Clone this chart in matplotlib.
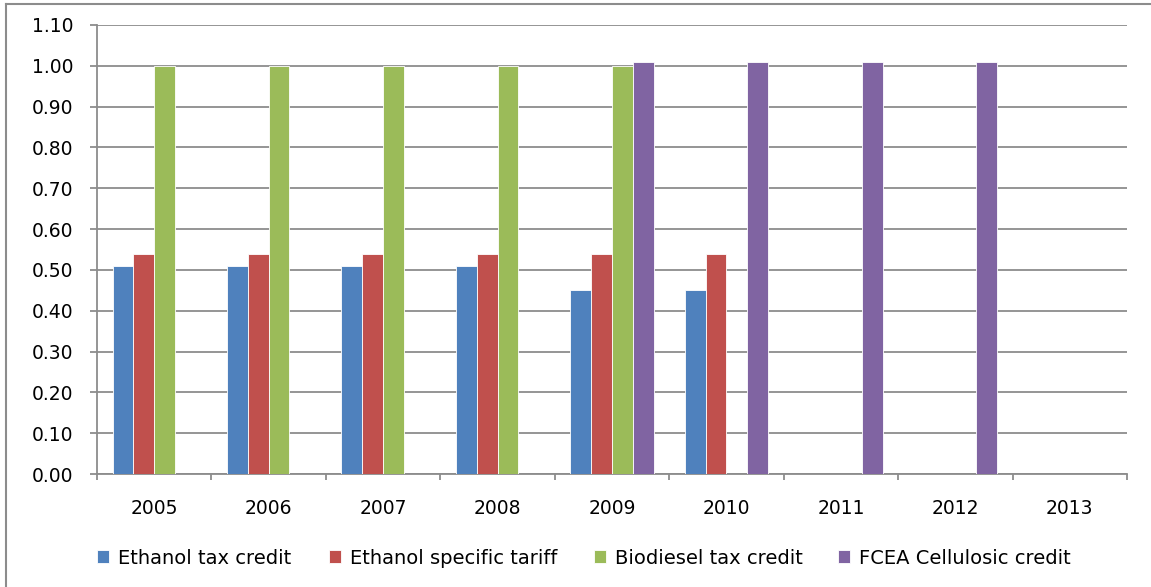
import numpy as np
import matplotlib.pyplot as plt
from matplotlib.lines import Line2D

years = ["2005", "2006", "2007", "2008", "2009", "2010", "2011", "2012", "2013"]
series_names = ["Ethanol tax credit", "Ethanol specific tariff",
                "Biodiesel tax credit", "FCEA Cellulosic credit"]
ethanol_credit = [0.51, 0.51, 0.51, 0.51, 0.45, 0.45, 0, 0, 0]
ethanol_tariff = [0.54, 0.54, 0.54, 0.54, 0.54, 0.54, 0, 0, 0]
biodiesel_credit = [1.00, 1.00, 1.00, 1.00, 1.00, 0, 0, 0, 0]
fcea_credit = [0, 0, 0, 0, 1.01, 1.01, 1.01, 1.01, 0]
colors = ["#4F81BD", "#C0504D", "#9BBB59", "#8064A2"]

fig = plt.figure(figsize=(11.51, 5.87), dpi=100)
ax = fig.add_axes([97 / 1151, 113 / 587, (1127 - 97) / 1151, (474 - 25) / 587])

x = np.arange(len(years))
width = 1 / 5.5
all_series = [ethanol_credit, ethanol_tariff, biodiesel_credit, fcea_credit]
bars = []
for i, (vals, name) in enumerate(zip(all_series, series_names)):
    b = ax.bar(x + (i - 1.5) * width, vals, width, color=colors[i], label=name,
               linewidth=0.6, edgecolor="white", zorder=3)
    bars.append(b)

ax.set_xlim(-0.5, len(years) - 0.5)
ax.set_ylim(0, 1.10)
ax.set_yticks(np.arange(0, 1.101, 0.1))
ax.set_yticklabels([f"{v:.2f}" for v in np.arange(0, 1.101, 0.1)])
ax.grid(axis="y", color="#8C8C8C", linewidth=1.3, zorder=0)

ax.set_xticks(x)
ax.set_xticklabels(years)
ax.set_xticks(np.arange(-0.5, len(years)), minor=True)
ax.tick_params(axis="x", which="major", length=0, pad=18, labelsize=13.5)
ax.tick_params(axis="x", which="minor", length=4, color="#8C8C8C", width=1.3)
ax.tick_params(axis="y", length=5, color="#8C8C8C", width=1.3, pad=12, labelsize=13.5)

for s in ["top", "right"]:
    ax.spines[s].set_visible(False)
for s in ["left", "bottom"]:
    ax.spines[s].set_color("#8C8C8C")
    ax.spines[s].set_linewidth(1.3)

# legend entries placed one by one, like the Excel layout
legend_x = [97, 329, 594, 838]
for b, name, lx in zip(bars, series_names, legend_x):
    fig.legend([b], [name], loc="center left", bbox_to_anchor=(lx / 1151, 1 - 558 / 587),
               frameon=False, borderpad=0, borderaxespad=0,
               handlelength=0.62, handleheight=0.62, handletextpad=0.45,
               prop={"size": 14})

# outer chart border (only top and left visible in the crop)
fig.add_artist(Line2D([6 / 1151, 6 / 1151], [0, 1 - 4 / 587], transform=fig.transFigure,
                      color="#8C8C8C", linewidth=1.5))
fig.add_artist(Line2D([6 / 1151, 1], [1 - 4 / 587, 1 - 4 / 587], transform=fig.transFigure,
                      color="#8C8C8C", linewidth=1.5))

fig.savefig("out.png", dpi=100)
